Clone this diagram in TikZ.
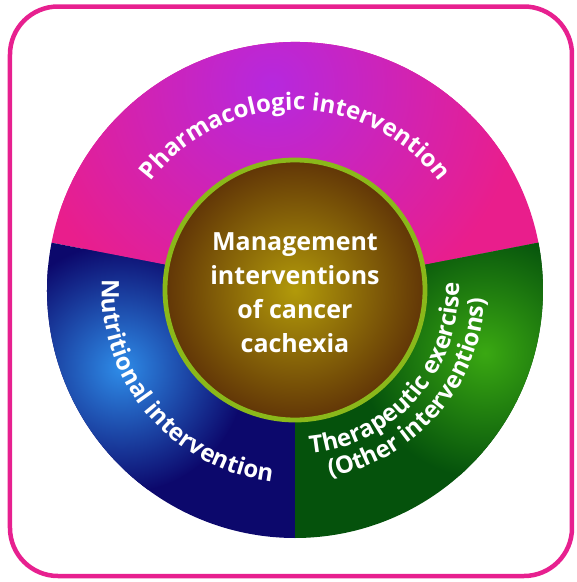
\documentclass[tikz,border=0pt]{standalone}
\usepackage{fontspec}
\setmainfont{Open Sans}
\usepackage{tikz}
\usetikzlibrary{decorations.text}
\definecolor{rimpink}{RGB}{231,32,143}
\definecolor{pharmapink}{RGB}{233,30,140}
\definecolor{pharmaviolet}{RGB}{182,40,222}
\definecolor{nutrinavy}{RGB}{12,8,108}
\definecolor{nutriblue}{RGB}{46,140,232}
\definecolor{therapgreen}{RGB}{5,82,12}
\definecolor{therapglow}{RGB}{58,168,18}
\definecolor{corebrown}{RGB}{88,42,6}
\definecolor{coregold}{RGB}{178,154,10}
\definecolor{ringgreen}{RGB}{138,184,26}

\begin{document}
\begin{tikzpicture}[x=1pt, y=1pt,
	arclabel/.style={decorate, decoration={text along path, text align=center, text color=white, text={|\bfseries\fontsize{24}{24}\selectfont|#1}}}]
	\useasboundingbox (-295,-292) rectangle (282,290);
	\draw[rimpink, line width=4.5pt, rounded corners=48pt] (-285,-286) rectangle (277,283.5);
	
	\begin{scope}
		\clip (0,0) -- (11:248) arc[start angle=11, end angle=169, radius=248pt] -- cycle;
		\fill[pharmapink] (-250,-10) rectangle (250,250);
		\shade[inner color=pharmaviolet, outer color=pharmapink] (-23,205) circle[radius=250pt];
	\end{scope}
	\begin{scope}
		\clip (0,0) -- (169:248) arc[start angle=169, end angle=270, radius=248pt] -- cycle;
		\fill[nutrinavy] (-250,-250) rectangle (0,50);
		\shade[inner color=nutriblue, outer color=nutrinavy] (-174,-78) circle[radius=125pt];
	\end{scope}
	\begin{scope}
		\clip (0,0) -- (270:248) arc[start angle=270, end angle=371, radius=248pt] -- cycle;
		\fill[therapgreen] (0,-250) rectangle (250,50);
		\shade[inner color=therapglow, outer color=therapgreen] (190,-63) circle[radius=125pt];
	\end{scope}
	\begin{scope}
		\clip (0,0) circle[radius=130pt];
		\fill[corebrown] (0,0) circle[radius=130pt];
		\shade[inner color=coregold, outer color=corebrown] (0,0) circle[radius=145pt];
	\end{scope}
	\draw[ringgreen, line width=4.8pt] (0,0) circle[radius=130pt];
	
	\node[text=white, font=\bfseries\fontsize{25}{34}\selectfont, align=center] (core) at (0,-3) {Management\\interventions\\of cancer\\cachexia};
	
	\path[arclabel={Pharmacologic intervention}] (155:180) arc[start angle=155, end angle=25, radius=180pt];
	\path[arclabel={Nutritional intervention}] (160:193) arc[start angle=160, end angle=280, radius=193pt];
	\path[arclabel={Therapeutic exercise}] (-101:164) arc[start angle=-101, end angle=19, radius=164pt];
	\path[arclabel={(Other interventions)}] (-101:190) arc[start angle=-101, end angle=19, radius=190pt];
\end{tikzpicture}
\end{document}
